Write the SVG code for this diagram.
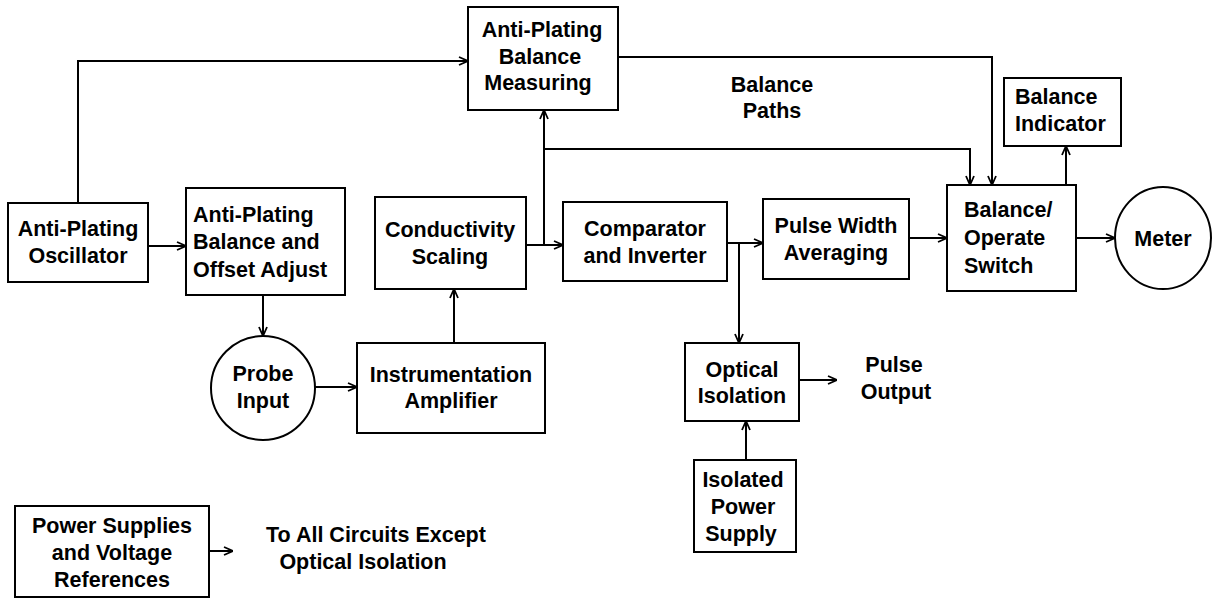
<svg xmlns="http://www.w3.org/2000/svg" width="1212" height="601" viewBox="0 0 1212 601">
<style>
.box{fill:#fff;stroke:#000;stroke-width:2}
.t{font-family:"Liberation Sans",Arial,sans-serif;font-size:21.5px;font-weight:bold;fill:#000}
.c{text-anchor:middle}
.ln{fill:none;stroke:#000;stroke-width:2}
</style>
<defs>
<marker id="arr" viewBox="0 0 10 10" refX="10" refY="5" markerWidth="10" markerHeight="10" markerUnits="userSpaceOnUse" orient="auto">
<path d="M1,1 L10,5 L1,9" fill="none" stroke="#000" stroke-width="1.8"/>
</marker>
</defs>
<rect width="1212" height="601" fill="#fff"/>
<g id="connectors">
<path class="ln" d="M78,203 V61 H468" marker-end="url(#arr)"/>
<path class="ln" d="M618,57 H992 V185" marker-end="url(#arr)"/>
<path class="ln" d="M526,245 H563" marker-end="url(#arr)"/>
<path class="ln" d="M544,245 V110" marker-end="url(#arr)"/>
<path class="ln" d="M544,149 H970 V185" marker-end="url(#arr)"/>
<path class="ln" d="M727,243 H763" marker-end="url(#arr)"/>
<path class="ln" d="M739,243 V343" marker-end="url(#arr)"/>
<path class="ln" d="M909,238 H947" marker-end="url(#arr)"/>
<path class="ln" d="M1076,238 H1115" marker-end="url(#arr)"/>
<path class="ln" d="M1066,185 V146" marker-end="url(#arr)"/>
<path class="ln" d="M148,246 H186" marker-end="url(#arr)"/>
<path class="ln" d="M263,295 V336" marker-end="url(#arr)"/>
<path class="ln" d="M315,387 H357" marker-end="url(#arr)"/>
<path class="ln" d="M454,343 V289" marker-end="url(#arr)"/>
<path class="ln" d="M799,380 H837" marker-end="url(#arr)"/>
<path class="ln" d="M746,460 V421" marker-end="url(#arr)"/>
<path class="ln" d="M209,551 H233" marker-end="url(#arr)"/>
</g>
<g id="osc">
<rect class="box" x="8" y="203" width="140" height="79"/>
<text class="t c" x="78" y="236">Anti-Plating</text>
<text class="t c" x="78" y="263">Oscillator</text>
</g>
<g id="adj">
<rect class="box" x="186" y="188" width="159" height="107"/>
<text class="t" x="193" y="222">Anti-Plating</text>
<text class="t" x="193" y="249">Balance and</text>
<text class="t" x="193" y="277">Offset Adjust</text>
</g>
<g id="cond">
<rect class="box" x="375" y="197" width="151" height="92"/>
<text class="t c" x="450" y="237">Conductivity</text>
<text class="t c" x="450" y="264">Scaling</text>
</g>
<g id="comp">
<rect class="box" x="563" y="202" width="164" height="79"/>
<text class="t c" x="645" y="236">Comparator</text>
<text class="t c" x="645" y="263">and Inverter</text>
</g>
<g id="pwa">
<rect class="box" x="763" y="199" width="146" height="80"/>
<text class="t c" x="836" y="233">Pulse Width</text>
<text class="t c" x="836" y="260">Averaging</text>
</g>
<g id="bos">
<rect class="box" x="947" y="185" width="129" height="106"/>
<text class="t" x="964" y="217">Balance/</text>
<text class="t" x="964" y="245">Operate</text>
<text class="t" x="964" y="273">Switch</text>
</g>
<g id="meter">
<ellipse class="box" cx="1163" cy="238" rx="48" ry="51"/>
<text class="t c" x="1163" y="246">Meter</text>
</g>
<g id="bi">
<rect class="box" x="1004" y="78" width="117" height="68"/>
<text class="t" x="1015" y="104">Balance</text>
<text class="t" x="1015" y="131">Indicator</text>
</g>
<g id="apm">
<rect class="box" x="468" y="7" width="150" height="103"/>
<text class="t c" x="542" y="37">Anti-Plating</text>
<text class="t c" x="540" y="64">Balance</text>
<text class="t c" x="538" y="90">Measuring</text>
</g>
<g id="paths">
<text class="t c" x="772" y="92">Balance</text>
<text class="t c" x="772" y="118">Paths</text>
</g>
<g id="probe">
<circle class="box" cx="263" cy="388" r="52"/>
<text class="t c" x="263" y="381">Probe</text>
<text class="t c" x="263" y="408">Input</text>
</g>
<g id="ia">
<rect class="box" x="357" y="343" width="188" height="90"/>
<text class="t c" x="451" y="382">Instrumentation</text>
<text class="t c" x="451" y="408">Amplifier</text>
</g>
<g id="opt">
<rect class="box" x="685" y="343" width="114" height="78"/>
<text class="t c" x="742" y="377">Optical</text>
<text class="t c" x="742" y="403">Isolation</text>
</g>
<g id="pulseout">
<text class="t c" x="894" y="372">Pulse</text>
<text class="t c" x="896" y="399">Output</text>
</g>
<g id="ips">
<rect class="box" x="694" y="460" width="102" height="92"/>
<text class="t c" x="743" y="487">Isolated</text>
<text class="t c" x="743" y="514">Power</text>
<text class="t c" x="741" y="541">Supply</text>
</g>
<g id="ps">
<rect class="box" x="15" y="506" width="194" height="91"/>
<text class="t c" x="112" y="533">Power Supplies</text>
<text class="t c" x="112" y="560">and Voltage</text>
<text class="t c" x="112" y="587">References</text>
</g>
<g id="allcircuits">
<text class="t c" x="376" y="542">To All Circuits Except</text>
<text class="t c" x="363" y="569">Optical Isolation</text>
</g>
</svg>
